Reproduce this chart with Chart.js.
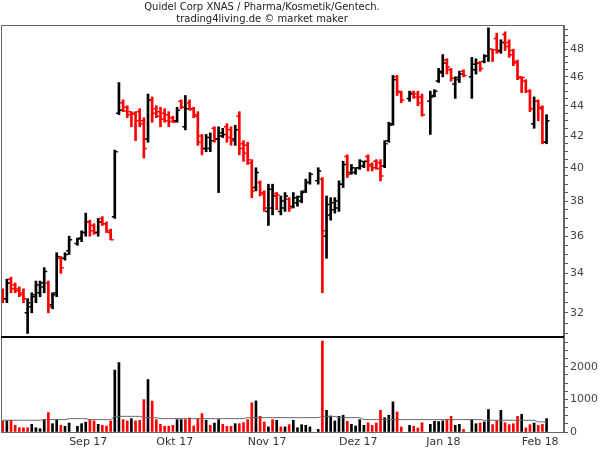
<!DOCTYPE html>
<html>
<head>
<meta charset="utf-8">
<script src="https://cdn.jsdelivr.net/npm/chart.js@4"></script>
<style>
  html, body { margin: 0; padding: 0; background: #fff; }
  #wrap { width: 600px; height: 450px; }
</style>
</head>
<body>
<div id="wrap"><canvas id="chart" width="600" height="450"></canvas></div>
<script>
// trading days (weekdays, exchange holidays carry null values)
const dates = [
  '2017-08-10','2017-08-11','2017-08-14','2017-08-15','2017-08-16','2017-08-17','2017-08-18','2017-08-21','2017-08-22','2017-08-23',
  '2017-08-24','2017-08-25','2017-08-28','2017-08-29','2017-08-30','2017-08-31','2017-09-01','2017-09-04','2017-09-05','2017-09-06',
  '2017-09-07','2017-09-08','2017-09-11','2017-09-12','2017-09-13','2017-09-14','2017-09-15','2017-09-18','2017-09-19','2017-09-20',
  '2017-09-21','2017-09-22','2017-09-25','2017-09-26','2017-09-27','2017-09-28','2017-09-29','2017-10-02','2017-10-03','2017-10-04',
  '2017-10-05','2017-10-06','2017-10-09','2017-10-10','2017-10-11','2017-10-12','2017-10-13','2017-10-16','2017-10-17','2017-10-18',
  '2017-10-19','2017-10-20','2017-10-23','2017-10-24','2017-10-25','2017-10-26','2017-10-27','2017-10-30','2017-10-31','2017-11-01',
  '2017-11-02','2017-11-03','2017-11-06','2017-11-07','2017-11-08','2017-11-09','2017-11-10','2017-11-13','2017-11-14','2017-11-15',
  '2017-11-16','2017-11-17','2017-11-20','2017-11-21','2017-11-22','2017-11-23','2017-11-24','2017-11-27','2017-11-28','2017-11-29',
  '2017-11-30','2017-12-01','2017-12-04','2017-12-05','2017-12-06','2017-12-07','2017-12-08','2017-12-11','2017-12-12','2017-12-13',
  '2017-12-14','2017-12-15','2017-12-18','2017-12-19','2017-12-20','2017-12-21','2017-12-22','2017-12-25','2017-12-26','2017-12-27',
  '2017-12-28','2017-12-29','2018-01-01','2018-01-02','2018-01-03','2018-01-04','2018-01-05','2018-01-08','2018-01-09','2018-01-10',
  '2018-01-11','2018-01-12','2018-01-15','2018-01-16','2018-01-17','2018-01-18','2018-01-19','2018-01-22','2018-01-23','2018-01-24',
  '2018-01-25','2018-01-26','2018-01-29','2018-01-30','2018-01-31','2018-02-01','2018-02-02','2018-02-05','2018-02-06','2018-02-07',
  '2018-02-08','2018-02-09'
];

const opens = [
  33.1,32.7,33.7,33.4,33.2,33.0,32.0,32.3,32.8,33.0,
  33.3,33.5,32.4,33.0,34.8,34.8,35.2,null,35.6,35.9,
  36.2,36.8,36.6,36.2,37.0,36.7,36.2,37.1,43.5,44.2,
  43.9,43.6,43.5,43.6,43.0,41.8,44.4,43.8,43.6,43.5,
  43.4,43.2,43.0,44.3,42.6,44.2,43.8,43.3,42.0,41.2,
  41.2,42.5,41.8,42.0,42.6,42.4,41.8,43.3,41.5,41.4,
  40.3,38.8,39.1,38.4,37.4,37.6,38.45,37.4,37.6,38.1,
  37.7,37.9,38.0,38.6,39.1,null,39.2,39.3,36.0,37.2,
  37.5,37.6,39.0,40.7,39.7,39.7,40.0,40.1,40.7,40.2,
  40.4,40.3,40.1,41.7,42.8,46.0,44.9,null,44.5,44.9,
  44.8,44.6,null,44.3,44.7,45.7,46.3,47.2,46.5,45.5,
  45.8,46.4,null,46.0,46.5,47.0,47.1,47.5,48.0,48.8,
  47.9,49.1,48.5,47.9,47.1,46.0,45.7,45.0,42.8,44.3,
  43.8,41.6
];
const highs = [
  33.2,33.7,33.8,33.5,33.3,33.2,32.7,33.0,33.6,33.6,
  34.3,33.6,33.0,35.1,34.9,35.1,36.0,null,35.9,36.3,
  37.3,36.9,36.7,37.0,37.1,36.8,36.4,41.1,45.6,44.4,
  44.0,43.6,43.6,43.8,43.2,44.8,44.6,44.0,43.9,43.8,
  43.6,43.3,43.9,44.4,44.7,44.4,43.9,43.6,42.1,42.1,
  42.2,42.6,42.6,42.5,42.8,42.6,42.7,43.6,41.7,41.6,
  40.5,40.0,39.2,38.6,39.0,39.0,38.5,38.3,38.5,38.2,
  38.5,38.3,38.6,39.3,39.7,null,40.0,39.4,38.3,38.2,
  38.2,39.2,40.4,40.8,40.2,40.0,40.5,40.4,40.8,40.3,
  40.5,40.5,41.7,42.9,46.1,46.1,45.0,null,45.0,45.0,
  45.0,44.8,null,45.0,45.1,46.6,47.6,47.3,46.6,46.0,
  46.4,46.5,null,47.4,47.3,47.1,47.6,49.6,48.0,49.2,
  48.7,49.3,48.7,48.0,47.2,46.0,45.8,45.1,44.6,44.4,
  44.0,43.4
];
const lows = [
  32.5,32.5,33.0,33.0,32.8,32.5,31.0,32.0,32.5,32.8,
  33.0,32.0,32.2,32.8,34.0,34.7,35.0,null,35.5,35.7,
  36.0,36.0,36.1,36.0,36.6,36.2,35.8,37.0,43.4,43.6,
  43.2,42.6,41.7,42.6,40.6,41.6,42.9,43.2,42.6,42.9,
  42.6,42.9,42.9,43.8,42.4,43.7,43.2,41.4,40.8,41.0,
  41.0,41.6,38.5,41.9,41.6,41.4,41.4,40.8,40.4,40.2,
  38.2,38.6,38.3,37.4,36.6,37.2,37.5,37.2,37.4,37.4,
  37.6,37.7,37.9,38.5,39.0,null,39.0,33.0,34.8,36.9,
  37.3,37.4,38.8,39.4,39.6,39.6,39.9,40.0,39.8,39.8,
  39.9,39.2,40.0,41.6,42.7,44.7,44.2,null,44.3,44.5,
  44.0,43.3,null,42.1,44.6,45.6,46.0,46.2,45.7,44.5,
  45.6,46.0,null,44.5,46.2,46.4,47.0,47.1,47.1,47.7,
  47.7,47.9,47.4,46.8,45.8,44.9,44.9,43.6,42.5,43.0,
  41.5,41.5
];
const closes = [
  32.7,33.5,33.2,33.1,32.9,32.7,32.5,32.9,33.4,33.5,
  34.1,32.3,32.9,34.9,34.3,35.0,35.8,null,35.85,36.2,
  36.8,36.3,36.2,36.8,36.7,36.3,35.8,41.0,43.7,43.65,
  43.4,43.45,43.0,42.8,41.2,44.4,43.5,43.3,43.1,43.0,
  42.95,42.9,43.7,43.9,43.8,43.75,43.4,41.6,41.2,41.9,
  41.7,41.8,42.2,42.1,41.9,41.7,42.4,41.2,40.9,40.5,
  38.6,39.7,38.5,37.6,38.7,38.3,38.35,38.0,38.3,37.6,
  38.2,38.25,38.5,39.1,39.6,null,39.8,36.3,37.8,37.9,
  38.0,39.0,40.2,39.6,40.0,40.0,40.4,40.4,40.1,40.0,
  39.95,39.5,41.5,42.7,45.8,45.0,44.4,null,44.8,44.6,
  44.2,43.4,null,44.6,45.0,46.4,47.0,46.7,45.9,45.95,
  46.2,46.1,null,46.9,47.0,46.6,47.5,48.0,47.95,47.8,
  48.5,48.2,47.6,47.0,45.9,45.95,45.0,43.8,44.3,43.9,
  41.6,43.0
];
// volume in 1000 shares
const volumes = [
  340,340,360,205,130,130,130,235,130,100,
  380,595,255,380,205,175,275,null,175,255,
  300,390,340,235,205,185,340,1900,2130,380,
  340,410,340,360,995,1610,945,380,235,175,
  175,205,380,380,380,430,185,410,565,360,
  205,275,380,235,175,175,255,255,285,380,
  895,955,480,310,155,380,360,155,155,225,
  360,130,225,205,155,null,80,2790,665,490,
  340,480,515,330,235,185,380,205,285,205,
  275,665,440,515,925,615,155,null,205,175,
  125,285,null,235,330,320,340,380,480,205,
  235,80,null,380,255,275,310,690,225,340,
  665,285,225,255,480,545,125,225,275,205,
  235,410
];
// average volume line as drawn in the lower pane
const volumeAvg = [
  360,360,360,360,360,360,360,360,360,360,
  380,380,380,380,380,380,410,null,410,410,
  410,380,380,380,380,380,380,480,480,480,
  480,480,480,480,440,440,440,440,410,410,
  410,410,410,410,410,410,410,410,410,410,
  410,410,410,410,410,410,410,410,410,440,
  440,440,440,440,440,440,440,440,440,440,
  440,440,440,440,440,null,440,480,480,480,
  480,440,440,440,440,440,440,380,380,380,
  380,380,380,380,380,380,380,null,380,380,
  380,380,null,380,380,380,380,380,380,380,
  380,380,null,380,380,380,360,360,360,360,
  360,360,360,360,360,360,360,360,360,310,
  310,310
];

const monthLabels = ['Sep 17', 'Okt 17', 'Nov 17', 'Dez 17', 'Jan 18', 'Feb 18'];
const priceLabels = [32, 34, 36, 38, 40, 42, 44, 46, 48];
const volumeLabels = [0, 1000, 2000];

const UP = '#000000';
const DOWN = '#ff0000';
const FONT = 'DejaVu Sans';

// indices of days that traded
const days = dates.map((d, i) => i).filter(i => closes[i] != null);
// first trading day of every new month
const monthStarts = dates
  .map((d, i) => (i > 0 && d.slice(5, 7) !== dates[i - 1].slice(5, 7)) ? i : -1)
  .filter(i => i >= 0);

const barColor = i => (closes[i] < opens[i] ? DOWN : UP);
const volColor = i => {
  let p = i - 1;
  while (p >= 0 && closes[p] == null) p--;
  const ref = p >= 0 ? closes[p] : opens[i];
  return closes[i] < ref ? DOWN : UP;
};

const minorPriceTicks = [];
for (let v = 31; v <= 49.5; v += 0.5) minorPriceTicks.push(v);
const minorVolumeTicks = [];
for (let v = 0; v <= 2800; v += 250) minorVolumeTicks.push(v);

// open (left) / close (right) ticks of each OHLC bar
const ohlcTicks = {
  id: 'ohlcTicks',
  afterDatasetsDraw(chart) {
    const { ctx, chartArea } = chart;
    const xs = chart.scales.x, ys = chart.scales.y;
    ctx.save();
    ctx.beginPath();
    ctx.rect(chartArea.left, chartArea.top, chartArea.width, chartArea.height);
    ctx.clip();
    ctx.lineWidth = 1.5;
    days.forEach(i => {
      const x = xs.getPixelForValue(i);
      const yo = ys.getPixelForValue(opens[i]);
      const yc = ys.getPixelForValue(closes[i]);
      ctx.strokeStyle = barColor(i);
      ctx.beginPath();
      ctx.moveTo(x - 3, yo);
      ctx.lineTo(x, yo);
      ctx.moveTo(x, yc);
      ctx.lineTo(x + 3, yc);
      ctx.stroke();
    });
    ctx.restore();
  }
};

// frame, pane separator and the two title lines
const frame = {
  id: 'frame',
  afterDraw(chart) {
    const { ctx, chartArea } = chart;
    const yv = chart.scales.yv;
    ctx.save();
    ctx.strokeStyle = '#666';
    ctx.lineWidth = 1;
    ctx.strokeRect(chartArea.left + 0.5, chartArea.top + 0.5, chartArea.width - 1, chartArea.height);
    ctx.strokeStyle = '#000';
    ctx.lineWidth = 2;
    ctx.beginPath();
    ctx.moveTo(chartArea.left, yv.top);
    ctx.lineTo(chartArea.right, yv.top);
    ctx.stroke();

    ctx.fillStyle = '#222';
    ctx.textAlign = 'center';
    ctx.textBaseline = 'middle';
    ctx.font = '10px "' + FONT + '"';
    ctx.fillText('Quidel Corp XNAS / Pharma/Kosmetik/Gentech.', 262, 7);
    ctx.fillText('trading4living.de \u00a9 market maker', 262, 19);
    ctx.restore();
  }
};

const axisFont = { family: FONT, size: 11 };

new Chart(document.getElementById('chart'), {
  type: 'bar',
  data: {
    datasets: [
      {
        label: 'Kurs',
        yAxisID: 'y',
        data: days.map(i => ({ x: i, y: [lows[i], highs[i]] })),
        backgroundColor: days.map(barColor),
        barThickness: 2,
        grouped: false,
        borderWidth: 0
      },
      {
        type: 'line',
        label: 'Volumen Schnitt',
        yAxisID: 'yv',
        data: days.map(i => ({ x: i, y: volumeAvg[i] })),
        borderColor: '#666',
        borderWidth: 1,
        pointRadius: 0,
        tension: 0
      },
      {
        label: 'Volumen',
        yAxisID: 'yv',
        data: days.map(i => ({ x: i, y: volumes[i] })),
        backgroundColor: days.map(volColor),
        barThickness: 2,
        grouped: false,
        borderWidth: 0
      }
    ]
  },
  options: {
    responsive: false,
    animation: false,
    layout: { padding: { top: 25, left: 1, right: 0, bottom: 0 } },
    plugins: {
      legend: { display: false },
      tooltip: { enabled: false }
    },
    scales: {
      x: {
        type: 'linear',
        offset: false,
        min: -0.41,
        max: 135.2,
        grid: { display: false, drawTicks: false },
        border: { display: false },
        afterBuildTicks: s => { s.ticks = monthStarts.map(v => ({ value: v })); },
        ticks: {
          autoSkip: false,
          maxRotation: 0,
          align: 'start',
          padding: 4,
          color: '#333',
          font: axisFont,
          callback: v => monthLabels[monthStarts.indexOf(v)]
        },
        afterFit: s => { s.height = 18; }
      },
      y: {
        type: 'logarithmic',
        position: 'right',
        stack: 'panes',
        stackWeight: 312,
        min: 30.83,
        max: 49.82,
        grid: { drawOnChartArea: false, tickLength: 4, tickColor: '#555' },
        border: { display: true, color: '#666' },
        afterBuildTicks: s => { s.ticks = minorPriceTicks.map(v => ({ value: v })); },
        ticks: {
          autoSkip: false,
          padding: 2,
          color: '#444',
          font: axisFont,
          callback: v => (priceLabels.includes(v) ? String(v) : '')
        },
        afterFit: s => { s.width = 36; }
      },
      yv: {
        type: 'linear',
        position: 'right',
        stack: 'panes',
        stackWeight: 95,
        min: 0,
        max: 2914,
        grid: { drawOnChartArea: false, tickLength: 4, tickColor: '#555' },
        border: { display: true, color: '#666' },
        afterBuildTicks: s => { s.ticks = minorVolumeTicks.map(v => ({ value: v })); },
        ticks: {
          autoSkip: false,
          padding: 2,
          color: '#444',
          font: axisFont,
          callback: v => (volumeLabels.includes(v) ? String(v) : '')
        },
        afterFit: s => { s.width = 36; }
      }
    }
  },
  plugins: [ohlcTicks, frame]
});
</script>
</body>
</html>
